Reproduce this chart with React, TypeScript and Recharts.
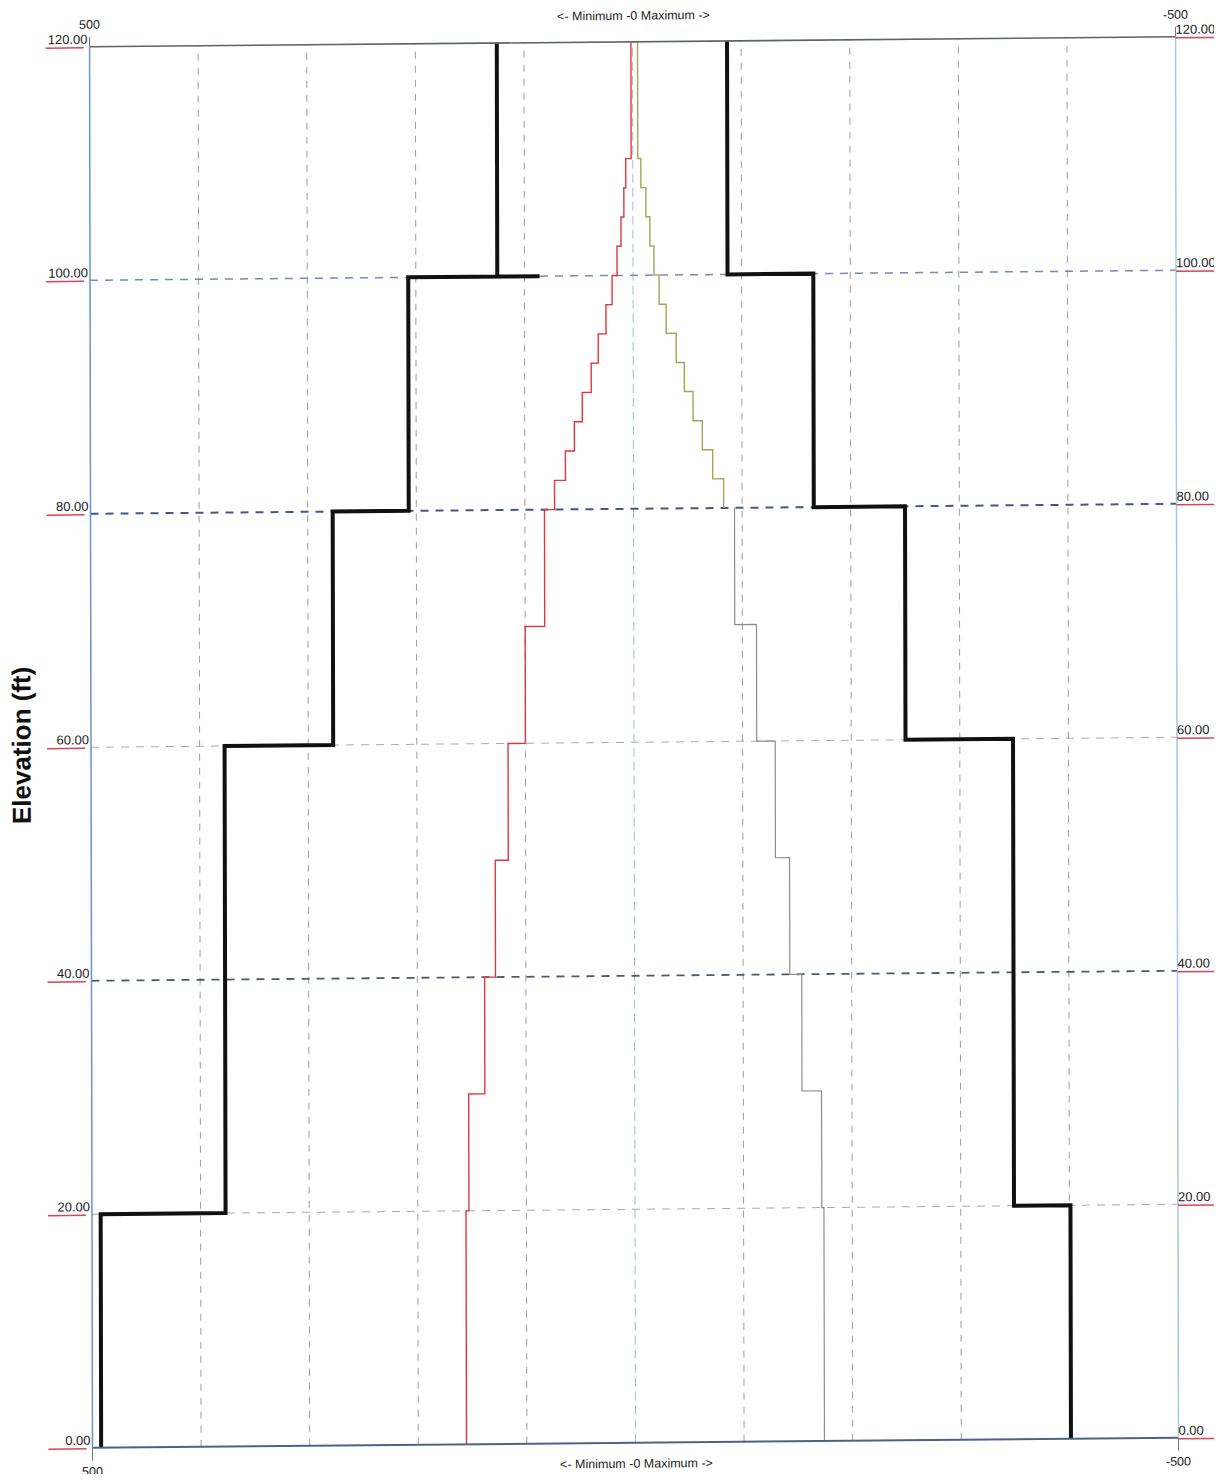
import { LineChart, Line, XAxis, YAxis, ReferenceLine } from 'recharts';

// elevations (ft) where the step lines change value
const outerLevels = [0, 20, 60, 80, 100, 120];
const outerLeftValues = [492, 377, 277, 207, 125];
const outerRightValues = [-401, -349, -250, -166, -87];
const outerLeftStubEnd = 86; // short black tail at elevation 100

const innerLevels = [0, 20, 30, 40, 50, 60, 70, 80, 82.5, 85, 87.5, 90, 92.5, 95, 97.5, 100, 102.5, 105, 107.5, 110, 120];
const maxValues = [155.6, 152.9, 138, 128, 116, 100, 82, 72.7, 62.6, 54.3, 47, 38.7, 32.2, 25, 19.3, 14.7, 11, 8.3, 6.5, 1.5];
const minValues = [-174, -172, -154, -143, -130, -113, -93, -83, -73, -63.5, -55, -47, -39.6, -30.4, -24, -19.3, -15.6, -12, -7.4, -4.6];

const elevationTicks = [0, 20, 40, 60, 80, 100, 120];
const endTicks = [500, -500];
const gridValues = [400, 300, 200, 100, -100, -200, -300, -400];
const gridElevations = [
  { e: 20, color: '#a9a9a9', w: 1 },
  { e: 40, color: '#4d5b6e', w: 1.8 },
  { e: 60, color: '#ababab', w: 1 },
  { e: 80, color: '#3f5a86', w: 2 },
  { e: 100, color: '#6f8db6', w: 1.5 },
];

const FONT = '"Liberation Sans", Arial, sans-serif';

type Pt = { v: number; e: number };

const toSteps = (levels: number[], values: number[]): Pt[] => {
  const pts: Pt[] = [];
  values.forEach((v, i) => {
    pts.push({ v, e: levels[i] });
    pts.push({ v, e: levels[i + 1] });
  });
  return pts;
};

const outerLeft = toSteps(outerLevels, outerLeftValues);
// the left envelope runs on to the stub at 100 before climbing
const leftCut = outerLeft.findIndex(p => p.e === 100);
const outerLeftPts: Pt[] = [
  ...outerLeft.slice(0, leftCut + 1),
  { v: outerLeftStubEnd, e: 100 },
  ...outerLeft.slice(leftCut + 1),
];
const outerRightPts = toSteps(outerLevels, outerRightValues);
const maxPts = toSteps(innerLevels, maxValues);
const minUpper = toSteps(innerLevels.slice(7), minValues.slice(7));
const minLower = toSteps(innerLevels.slice(0, 8), minValues.slice(0, 7));

const LeftTick = (props: any) => {
  const { x, y, payload } = props;
  return (
    <g>
      <text x={x} y={y - 3} textAnchor="end" fontSize={13} fill="#222" fontFamily={FONT}>
        {Number(payload.value).toFixed(2)}
      </text>
      <line x1={x - 42} x2={x - 4} y1={y + 1} y2={y + 1} stroke="#e0405a" strokeWidth={1.5} />
    </g>
  );
};

const RightTick = (props: any) => {
  const { x, y, payload } = props;
  return (
    <g>
      <text x={x} y={y - 3} textAnchor="start" fontSize={13} fill="#222" fontFamily={FONT}>
        {Number(payload.value).toFixed(2)}
      </text>
      <line x1={x} x2={x + 40} y1={y + 1} y2={y + 1} stroke="#e0405a" strokeWidth={1.5} />
    </g>
  );
};

const titleStyle = {
  position: 'absolute' as const,
  left: 0,
  width: 1270,
  textAlign: 'center' as const,
  fontFamily: FONT,
  fontSize: 12.5,
  color: '#222',
};

const App = () => {
  return (
    <div style={{ position: 'relative', width: 1222, height: 1482, margin: -8, background: '#fff', overflow: 'hidden' }}>
      {/* the reference is a slightly skewed scan */}
      <div style={{ position: 'absolute', inset: 0, transform: 'matrix(1, -0.0092, 0.0021, 1, 0, 0)', transformOrigin: '611px 741px' }}>
        <LineChart
          width={1222}
          height={1482}
          margin={{ top: 12, right: 5, bottom: 9, left: 11 }}
        >
          <XAxis
            xAxisId="bottom"
            dataKey="v"
            type="number"
            domain={[-500, 500]}
            reversed
            ticks={endTicks}
            orientation="bottom"
            height={30}
            tickSize={13}
            tickMargin={6}
            axisLine={{ stroke: '#4b6485', strokeWidth: 2 }}
            tickLine={{ stroke: '#777' }}
            tick={{ fontSize: 12.5, fill: '#222', fontFamily: FONT }}
          />
          <XAxis
            xAxisId="top"
            dataKey="v"
            type="number"
            domain={[-500, 500]}
            reversed
            ticks={endTicks}
            orientation="top"
            height={30}
            tickSize={10}
            tickMargin={8}
            axisLine={{ stroke: '#5d6466', strokeWidth: 1.6 }}
            tickLine={{ stroke: '#777' }}
            tick={{ fontSize: 12.5, fill: '#222', fontFamily: FONT }}
          />
          <YAxis
            yAxisId="left"
            type="number"
            domain={[0, 120]}
            ticks={elevationTicks}
            width={80}
            tickSize={0}
            tickMargin={2}
            axisLine={{ stroke: '#6b94c4', strokeWidth: 1.5 }}
            tickLine={false}
            tick={<LeftTick />}
          />
          <YAxis
            yAxisId="right"
            orientation="right"
            type="number"
            domain={[0, 120]}
            ticks={elevationTicks}
            width={40}
            tickSize={0}
            tickMargin={0}
            axisLine={{ stroke: '#a9c6e4', strokeWidth: 1.5 }}
            tickLine={false}
            tick={<RightTick />}
          />

          {gridValues.map(g => (
            <ReferenceLine
              key={'gx' + g}
              x={g}
              xAxisId="bottom"
              yAxisId="left"
              stroke="#9c9c9c"
              strokeDasharray="7 7"
            />
          ))}
          <ReferenceLine x={0} xAxisId="bottom" yAxisId="left" stroke="#9fbbd9" strokeDasharray="9 5" />
          {gridElevations.map(g => (
            <ReferenceLine
              key={'gy' + g.e}
              y={g.e}
              xAxisId="bottom"
              yAxisId="left"
              stroke={g.color}
              strokeWidth={g.w}
              strokeDasharray="8 7"
            />
          ))}

          <Line
            data={maxPts}
            dataKey="e"
            xAxisId="bottom"
            yAxisId="left"
            type="linear"
            stroke="#e2363c"
            strokeWidth={1.4}
            dot={false}
            isAnimationActive={false}
          />
          <Line
            data={minUpper}
            dataKey="e"
            xAxisId="bottom"
            yAxisId="left"
            type="linear"
            stroke="#a6a458"
            strokeWidth={1.4}
            dot={false}
            isAnimationActive={false}
          />
          <Line
            data={minLower}
            dataKey="e"
            xAxisId="bottom"
            yAxisId="left"
            type="linear"
            stroke="#8e8e88"
            strokeWidth={1.2}
            dot={false}
            isAnimationActive={false}
          />
          <Line
            data={outerLeftPts}
            dataKey="e"
            xAxisId="bottom"
            yAxisId="left"
            type="linear"
            stroke="#111"
            strokeWidth={4}
            dot={false}
            isAnimationActive={false}
          />
          <Line
            data={outerRightPts}
            dataKey="e"
            xAxisId="bottom"
            yAxisId="left"
            type="linear"
            stroke="#111"
            strokeWidth={4}
            dot={false}
            isAnimationActive={false}
          />
          {/* same envelope bound to the top / right axes so they draw their ticks */}
          <Line
            data={outerRightPts}
            dataKey="e"
            xAxisId="top"
            yAxisId="right"
            type="linear"
            stroke="transparent"
            strokeWidth={0}
            dot={false}
            activeDot={false}
            legendType="none"
            isAnimationActive={false}
          />
        </LineChart>

        <div style={{ ...titleStyle, top: 9 }}>{'<- Minimum -0 Maximum ->'}</div>
        <div style={{ ...titleStyle, top: 1457 }}>{'<- Minimum -0 Maximum ->'}</div>
        <div
          style={{
            position: 'absolute',
            left: 22,
            top: 740,
            transform: 'translate(-50%, -50%) rotate(-90deg)',
            fontFamily: FONT,
            fontWeight: 'bold',
            fontSize: 26,
            color: '#111',
            whiteSpace: 'nowrap',
          }}
        >
          Elevation (ft)
        </div>
      </div>
    </div>
  );
};

export default App;
